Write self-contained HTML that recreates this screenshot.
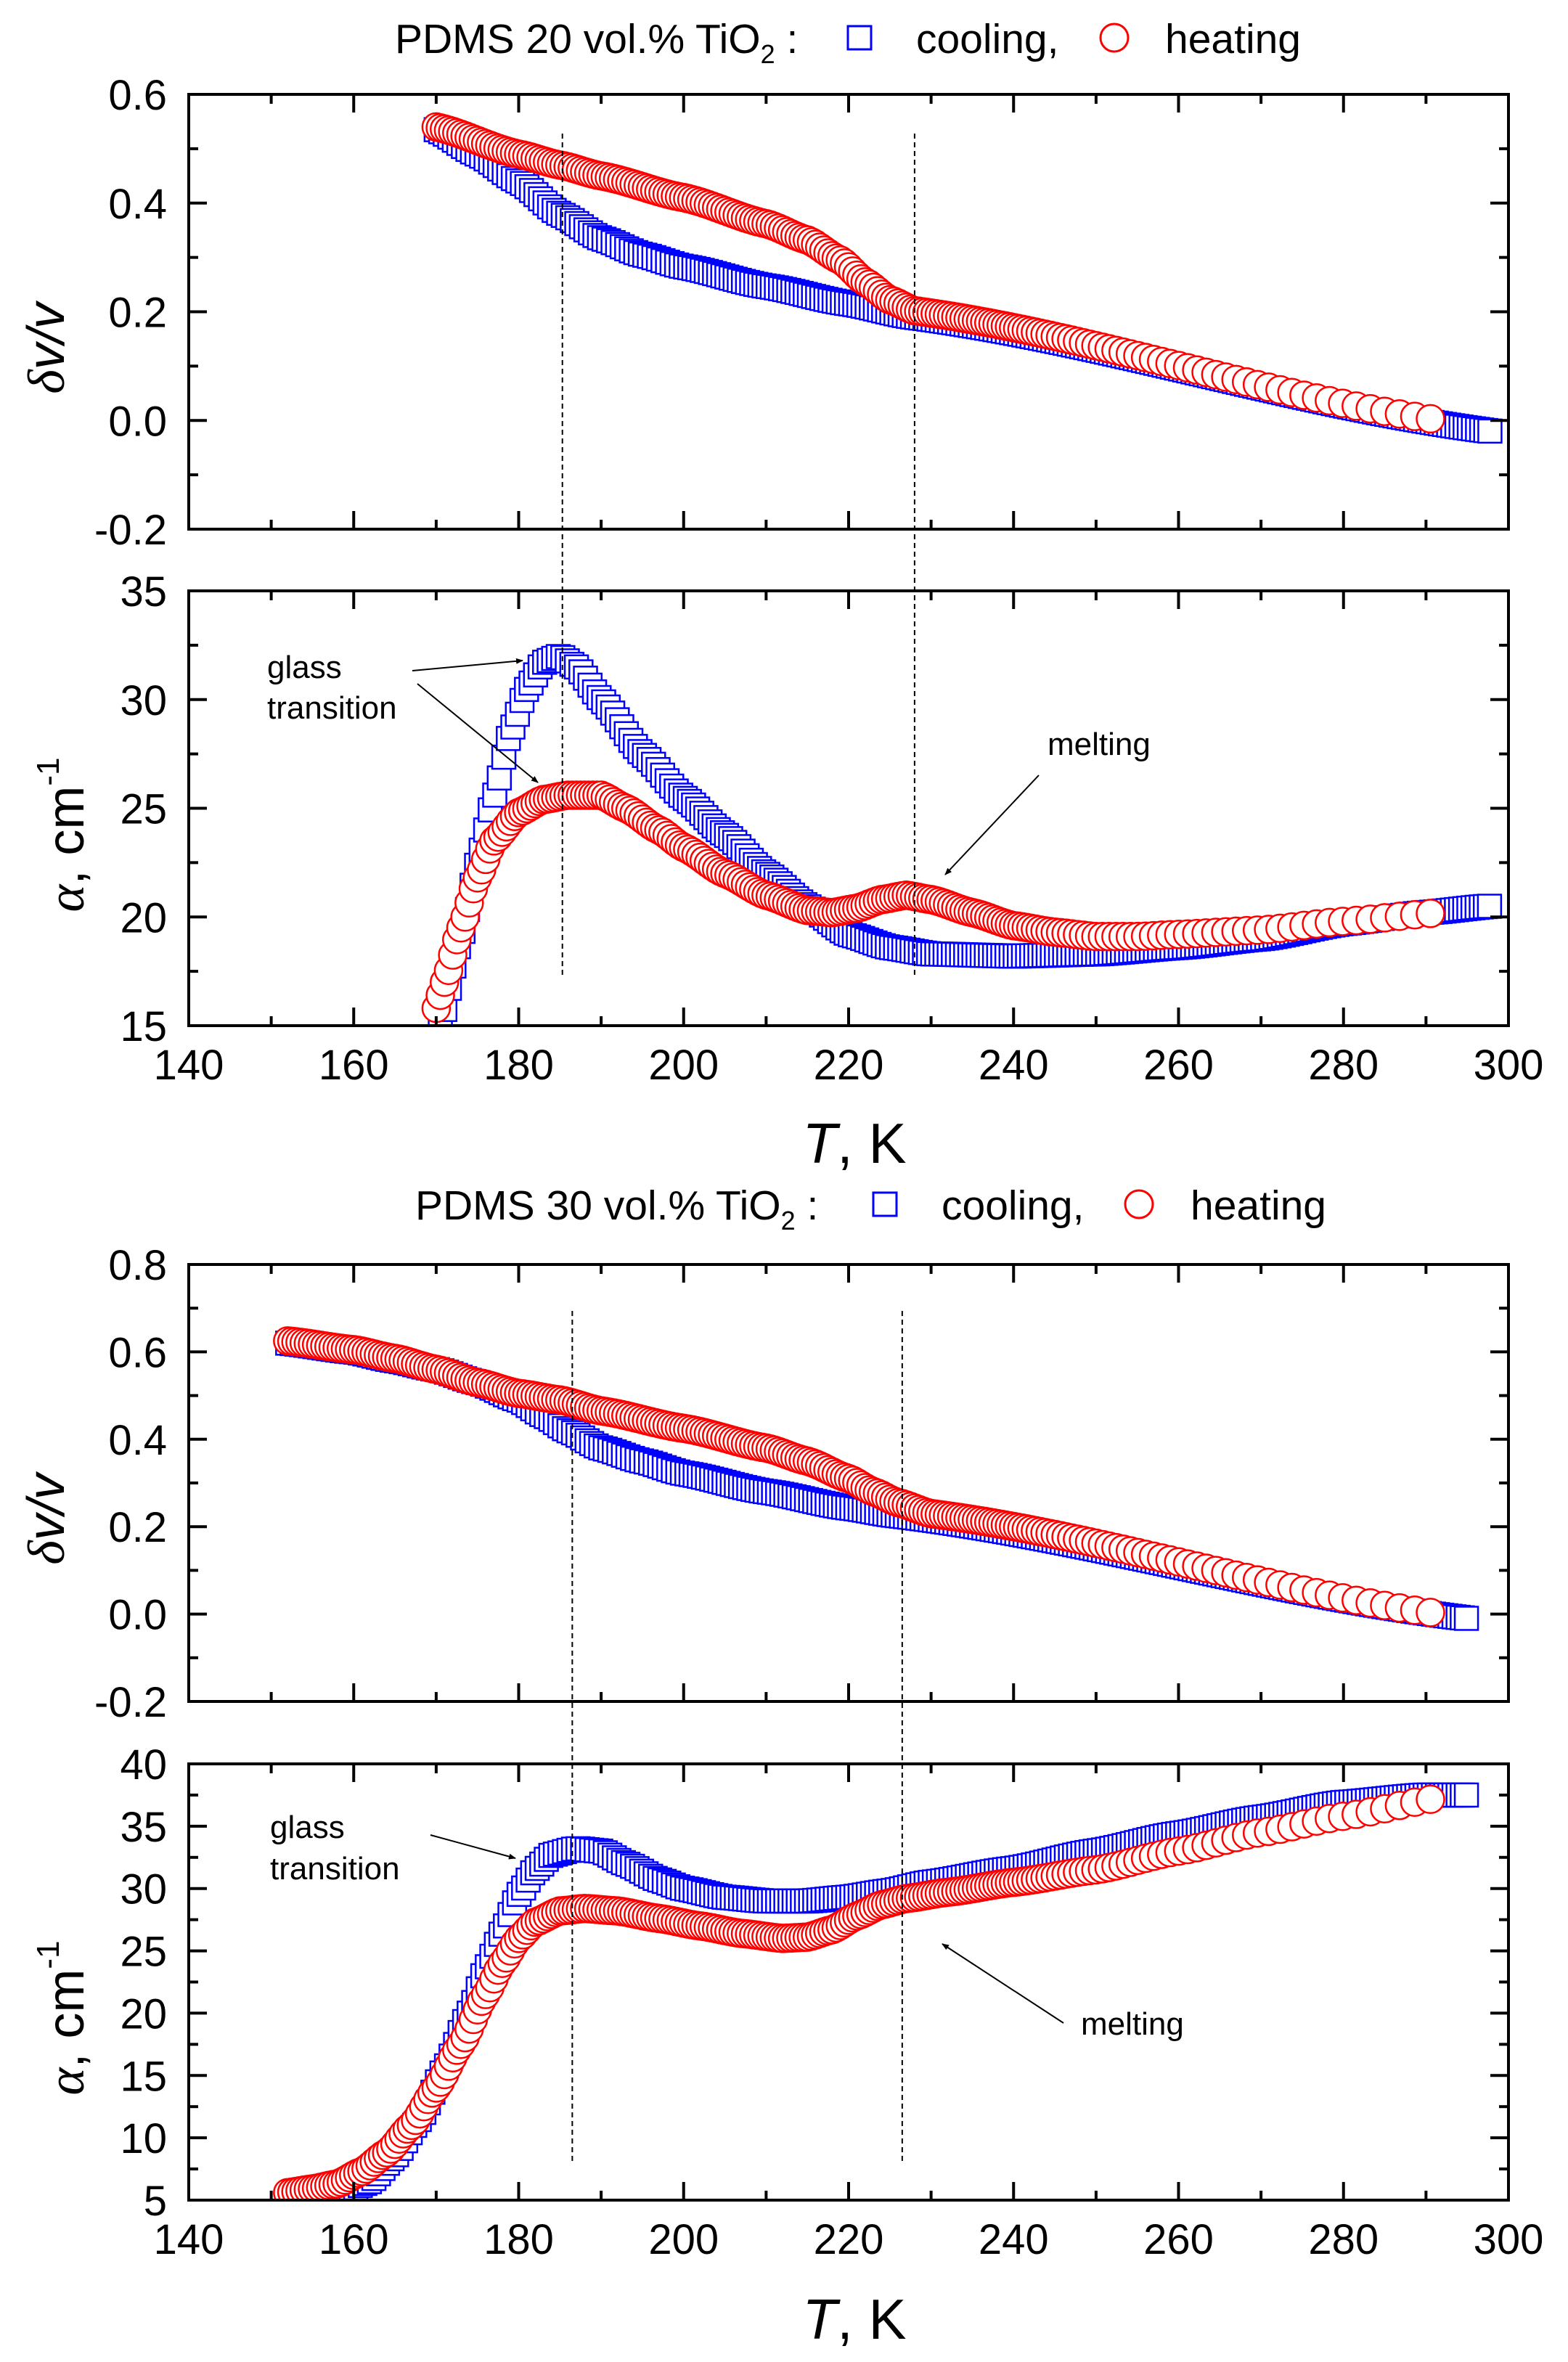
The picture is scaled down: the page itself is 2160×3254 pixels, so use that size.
<!DOCTYPE html>
<html><head><meta charset="utf-8"><style>
html,body{margin:0;padding:0;background:#fff}
svg{display:block}
text{font-family:"Liberation Sans",Arial,sans-serif;fill:#000}
</style></head><body>
<svg id="s" xmlns="http://www.w3.org/2000/svg" width="2160" height="3254" viewBox="0 0 2160 3254">
<defs>
<clipPath id="c1"><rect x="260" y="130" width="1818" height="599"/></clipPath>
<clipPath id="c2"><rect x="260" y="814" width="1818" height="599"/></clipPath>
<clipPath id="c3"><rect x="260" y="1742" width="1818" height="602"/></clipPath>
<clipPath id="c4"><rect x="260" y="2430" width="1818" height="601"/></clipPath>
<marker id="ah" markerWidth="10" markerHeight="8" refX="9" refY="4" orient="auto" markerUnits="userSpaceOnUse" viewBox="0 0 10 8"><path d="M0,0 L10,4 L0,8 z" fill="#000"/></marker>
</defs>
<g id="g"></g>
<text x="544" y="73" font-size="57">PDMS 20 vol.% TiO<tspan font-size="36" dy="14">2</tspan><tspan dy="-14"> :</tspan></text>
<rect x="1168" y="36" width="32" height="32" fill="none" stroke="#0000ff" stroke-width="3"/>
<text x="1262" y="73" font-size="57">cooling,</text>
<circle cx="1535" cy="52" r="19" fill="none" stroke="#ff0000" stroke-width="3"/>
<text x="1605" y="73" font-size="57">heating</text>
<text x="572" y="1680" font-size="57">PDMS 30 vol.% TiO<tspan font-size="36" dy="14">2</tspan><tspan dy="-14"> :</tspan></text>
<rect x="1203" y="1643" width="32" height="32" fill="none" stroke="#0000ff" stroke-width="3"/>
<text x="1297" y="1680" font-size="57">cooling,</text>
<circle cx="1569" cy="1659" r="19" fill="none" stroke="#ff0000" stroke-width="3"/>
<text x="1640" y="1680" font-size="57">heating</text>
<text x="1177" y="1602" font-size="78" text-anchor="middle"><tspan font-style="italic">T</tspan>, K</text>
<text x="1177" y="3222" font-size="78" text-anchor="middle"><tspan font-style="italic">T</tspan>, K</text>
<text transform="translate(88,480) rotate(-90)" font-size="72" text-anchor="middle" font-style="italic" style="font-family:'Liberation Serif',serif">δ<tspan style="font-family:'Liberation Sans',sans-serif">v/v</tspan></text>
<text transform="translate(88,2093) rotate(-90)" font-size="72" text-anchor="middle" font-style="italic" style="font-family:'Liberation Serif',serif">δ<tspan style="font-family:'Liberation Sans',sans-serif">v/v</tspan></text>
<text transform="translate(115,1150) rotate(-90)" font-size="72" text-anchor="middle"><tspan font-style="italic" style="font-family:'Liberation Serif',serif">α</tspan>, cm<tspan font-size="44" dy="-34">-1</tspan></text>
<text transform="translate(115,2780) rotate(-90)" font-size="72" text-anchor="middle"><tspan font-style="italic" style="font-family:'Liberation Serif',serif">α</tspan>, cm<tspan font-size="44" dy="-34">-1</tspan></text>
<text x="368" y="934" font-size="44">glass</text>
<text x="368" y="990" font-size="44">transition</text>
<line x1="568" y1="924" x2="720" y2="910" stroke="#000" stroke-width="2" marker-end="url(#ah)"/>
<line x1="575" y1="942" x2="741" y2="1078" stroke="#000" stroke-width="2" marker-end="url(#ah)"/>
<text x="1443" y="1040" font-size="44">melting</text>
<line x1="1431" y1="1068" x2="1302" y2="1205" stroke="#000" stroke-width="2" marker-end="url(#ah)"/>
<text x="372" y="2532" font-size="44">glass</text>
<text x="372" y="2589" font-size="44">transition</text>
<line x1="593" y1="2528" x2="710" y2="2560" stroke="#000" stroke-width="2" marker-end="url(#ah)"/>
<text x="1489" y="2803" font-size="44">melting</text>
<line x1="1465" y1="2787" x2="1298" y2="2678" stroke="#000" stroke-width="2" marker-end="url(#ah)"/>
</svg>
<script>
(function(){
var NS="http://www.w3.org/2000/svg",g=document.getElementById('g');
function el(t,a,p){var e=document.createElementNS(NS,t);for(var k in a)e.setAttribute(k,a[k]);(p||g).appendChild(e);return e;}
var X0=260,X1=2078;function X(t){return X0+(t-140)*(X1-X0)/160;}
function mkY(top,bot,v0,v1){return function(v){return top+(v1-v)*(bot-top)/(v1-v0);};}
var P=[
 {top:130,bot:729,v0:-0.2,v1:0.6,maj:0.2,min:0.1,dec:1,clip:'c1',xl:false},
 {top:814,bot:1413,v0:15,v1:35,maj:5,min:2.5,dec:0,clip:'c2',xl:1487},
 {top:1742,bot:2344,v0:-0.2,v1:0.8,maj:0.2,min:0.1,dec:1,clip:'c3',xl:false},
 {top:2430,bot:3031,v0:5,v1:40,maj:5,min:2.5,dec:0,clip:'c4',xl:3105}
];
function interp(k,t){if(t<=k[0][0])return k[0][1];for(var i=1;i<k.length;i++){if(t<=k[i][0]){var a=k[i-1],b=k[i];
 var f=(t-a[0])/(b[0]-a[0]);f=f*f*(3-2*f)*0.35+f*0.65;return a[1]+(b[1]-a[1])*f;}}return k[k.length-1][1];}
var D=[
 {c:[[170,0.535],[175,0.49],[180,0.44],[185,0.38],[190,0.335],[195,0.305],[200,0.283],[210,0.247],[220,0.215],[228,0.19],[298,-0.02]],
  h:[[170,0.54],[180,0.49],[185,0.47],[190,0.45],[200,0.41],[210,0.362],[215,0.332],[219,0.295],[222,0.255],[225,0.222],[228,0.202],[292,0.0]],
  ce:298,he:292},
 {c:[[170.5,15],[173,19],[175,22.5],[177,25.5],[179,28.5],[181,30.5],[183,31.7],[185,32],[187,31.5],[190,30],[195,27.5],[200,25.5],[205,23.8],[210,22],[215,20.5],[220,19.2],[225,18.6],[230,18.3],[240,18.2],[250,18.3],[260,18.6],[270,19],[280,19.7],[290,20.2],[298,20.5]],
  h:[[170,15.8],[171,17],[173,19.5],[175,21.8],[177,23.5],[180,24.8],[183,25.4],[186,25.6],[190,25.6],[193,25],[197,24],[200,23.2],[205,22],[210,21],[215,20.3],[218,20.2],[221,20.4],[224,20.8],[227,21],[230,20.8],[235,20.2],[240,19.6],[245,19.3],[250,19.1],[255,19.1],[260,19.2],[270,19.4],[280,19.8],[292,20.2]],
  ce:298,he:292},
 {c:[[152,0.62],[160,0.6],[165,0.58],[170,0.56],[175,0.53],[180,0.49],[183,0.455],[186,0.42],[190,0.38],[195,0.35],[200,0.322],[210,0.28],[220,0.243],[226,0.225],[295,-0.01]],
  h:[[152,0.625],[160,0.605],[165,0.585],[170,0.56],[175,0.53],[180,0.505],[185,0.49],[190,0.465],[200,0.425],[210,0.38],[215,0.35],[220,0.31],[223,0.28],[226,0.255],[230,0.23],[292,0.0]],
  ce:295,he:292},
 {c:[[152,4.9],[155,5],[158,5.3],[162,6.5],[165,8.5],[168,11.5],[171,15.5],[174,20],[176,23.5],[178,26.5],[180,29.5],[182,31.5],[184,32.7],[187,33.2],[190,33],[193,32],[197,30.7],[200,30],[205,29.3],[210,29],[215,29],[220,29.3],[225,29.8],[230,30.5],[240,31.6],[250,33],[260,34.4],[270,35.7],[280,36.9],[290,37.5],[295,37.5]],
  h:[[152,5.6],[155,5.9],[158,6.3],[161,7.3],[164,8.8],[167,11],[170,14],[173,17.5],[176,21.5],[178,24],[180,26],[182,27.3],[185,28.2],[188,28.4],[192,28.2],[197,27.6],[202,27],[207,26.4],[212,26],[215,26.1],[218,26.7],[221,27.8],[224,28.7],[227,29.2],[232,29.7],[240,30.5],[250,31.5],[260,33],[270,34.5],[280,35.8],[292,37.3]],
  ce:295,he:292}
];
P.forEach(function(p,i){
 var Y=mkY(p.top,p.bot,p.v0,p.v1),d=D[i];
 var gc=el('g',{'clip-path':'url(#'+p.clip+')'});
 var t=d.c[0][0];
 while(t<=d.ce+0.01){var y=Y(interp(d.c,t));el('rect',{x:X(t)-16,y:y-16,width:32,height:32,fill:'#fff',stroke:'#0000ff','stroke-width':2.5},gc);t+=(t<200?0.55:0.5);}
 t=d.h[0][0];var dt;
 while(t<=d.he+0.01){var y2=Y(interp(d.h,t));el('circle',{cx:X(t),cy:y2,r:19,fill:'#fff',stroke:'#ff0000','stroke-width':2.5},gc);
  dt=t<240?0.5:0.5+(t-240)/52*1.5;t+=dt;}
 el('rect',{x:X0,y:p.top,width:X1-X0,height:p.bot-p.top,fill:'none',stroke:'#000','stroke-width':4});
 for(var k=140;k<=300;k+=10){var mj=(k%20===0),L=mj?25:13;
  el('line',{x1:X(k),x2:X(k),y1:p.bot,y2:p.bot-L,stroke:'#000','stroke-width':4});
  el('line',{x1:X(k),x2:X(k),y1:p.top,y2:p.top+L,stroke:'#000','stroke-width':4});
  if(mj&&p.xl){var tx=el('text',{x:X(k),y:p.xl,'font-size':58,'text-anchor':'middle'});tx.textContent=k;}}
 var n=Math.round((p.v1-p.v0)/p.min);
 for(var j=0;j<=n;j++){var v=p.v0+j*p.min,yy=Y(v),mj2=(j%2===0),L2=mj2?25:13;
  el('line',{x1:X0,x2:X0+L2,y1:yy,y2:yy,stroke:'#000','stroke-width':4});
  el('line',{x1:X1,x2:X1-L2,y1:yy,y2:yy,stroke:'#000','stroke-width':4});
  if(mj2){var ty=el('text',{x:230,y:yy+21,'font-size':58,'text-anchor':'end'});ty.textContent=v.toFixed(p.dec);}}
});
[[X(185.3),184,1345],[X(228),184,1345],[X(186.5),1806,2977],[X(226.5),1806,2977]].forEach(function(a){
 el('line',{x1:a[0],x2:a[0],y1:a[1],y2:a[2],stroke:'#000','stroke-width':2,'stroke-dasharray':'7,5'});});
})();
</script>
</body></html>
